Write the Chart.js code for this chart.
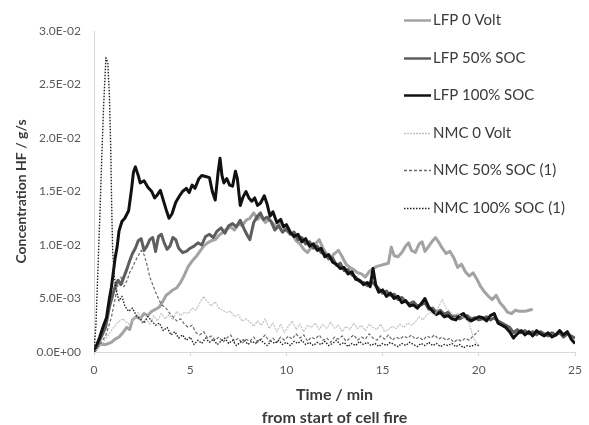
<!DOCTYPE html>
<html>
<head>
<meta charset="utf-8">
<script src="https://cdn.jsdelivr.net/npm/chart.js@4/dist/chart.umd.min.js"></script>
<style>
html,body{margin:0;padding:0;background:#fff;overflow:hidden}
#wrap{width:589px;height:425px;position:relative}
</style>
</head>
<body>
<div id="wrap"><canvas id="c" width="589" height="425"></canvas></div>
<script>
// ---- data (time in min, concentration HF in g/s) ----
const seriesNames = ["LFP 0 Volt","LFP 50% SOC","LFP 100% SOC","NMC 0 Volt","NMC 50% SOC (1)","NMC 100% SOC (1)"];
const xTickValues = [0,5,10,15,20,25];
const yTickValues = [0,0.005,0.01,0.015,0.02,0.025,0.03];
const xTitleLines = ["Time / min","from start of cell fire"];
const yTitle = "Concentration HF / g/s";

const tLfp0 = [0,0.3,0.6,0.9,1.1,1.3,1.5,1.7,1.85,2.0,2.2,2.4,2.6,2.8,3.0,3.2,3.4,3.6,3.75,3.9,4.1,4.3,4.5,4.7,4.9,5.1,5.3,5.5,5.7,5.9,6.1,6.3,6.5,6.7,6.9,7.1,7.3,7.5,7.7,7.9,8.1,8.3,8.5,8.7,8.9,9.1,9.3,9.5,9.7,9.9,10.1,10.3,10.5,10.7,10.9,11.1,11.3,11.5,11.7,11.9,12.1,12.3,12.5,12.7,12.9,13.1,13.3,13.5,13.7,13.9,14.1,14.3,14.5,14.7,14.9,15.1,15.3,15.45,15.6,15.8,16.0,16.2,16.35,16.5,16.7,16.9,17.05,17.2,17.4,17.6,17.75,17.9,18.1,18.3,18.5,18.7,18.9,19.1,19.3,19.5,19.7,19.9,20.1,20.3,20.5,20.7,20.9,21.1,21.3,21.5,21.7,21.9,22.1,22.4,22.6,22.8];
const vLfp0 = [0,0.0007,0.0007,0.0009,0.0012,0.0014,0.0018,0.0023,0.0021,0.003,0.0033,0.0031,0.0036,0.0034,0.0038,0.004,0.0042,0.0048,0.0053,0.0055,0.0058,0.006,0.0065,0.0072,0.008,0.0085,0.0089,0.0094,0.0099,0.0102,0.0104,0.0105,0.0109,0.0112,0.0115,0.0117,0.0114,0.012,0.0118,0.0123,0.0125,0.013,0.0124,0.0127,0.0121,0.0124,0.012,0.0117,0.0121,0.0115,0.0112,0.011,0.0104,0.0101,0.0096,0.0093,0.0098,0.0101,0.0105,0.0097,0.0091,0.0088,0.0092,0.0095,0.0089,0.0082,0.0079,0.0077,0.0074,0.0073,0.007,0.0075,0.0078,0.008,0.0081,0.0082,0.0083,0.0098,0.009,0.0089,0.0093,0.0099,0.0102,0.0095,0.0093,0.0101,0.0103,0.0094,0.0099,0.0104,0.0107,0.0103,0.0097,0.0092,0.0094,0.0088,0.0079,0.0082,0.0075,0.0071,0.0074,0.0068,0.0061,0.0056,0.0052,0.0049,0.0053,0.0046,0.0042,0.0037,0.0036,0.0039,0.0038,0.0038,0.0039,0.004];

const tLfp50 = [0,0.3,0.6,0.8,1.0,1.15,1.25,1.4,1.55,1.7,1.85,2.0,2.15,2.3,2.45,2.6,2.75,2.9,3.05,3.2,3.35,3.5,3.65,3.8,3.95,4.1,4.25,4.4,4.6,4.8,5.0,5.2,5.4,5.6,5.8,6.0,6.2,6.4,6.6,6.8,7.0,7.2,7.4,7.6,7.8,8.0,8.1,8.3,8.5,8.65,8.8,9.0,9.2,9.4,9.6,9.8,10.0,10.2,10.4,10.6,10.8,11.0,11.2,11.4,11.6,11.8,12.0,12.2,12.4,12.6,12.8,13.0,13.2,13.4,13.6,13.8,14.0,14.2,14.4,14.6,14.8,15.0,15.2,15.4,15.6,15.8,16.0,16.2,16.4,16.6,16.8,17.0,17.2,17.4,17.6,17.8,18.0,18.2,18.4,18.6,18.8,19.0,19.2,19.4,19.6,19.8,20.0,20.2,20.4,20.6,20.8,21.0,21.2,21.4,21.6,21.8,22.0,22.2,22.4,22.6,22.8,23.0,23.2,23.4,23.6,23.8,24.0,24.2,24.4,24.6,24.8,25.0];
const vLfp50 = [0,0.0011,0.0023,0.0042,0.0055,0.0064,0.0067,0.0063,0.007,0.0077,0.0085,0.0092,0.0097,0.0104,0.0106,0.0095,0.0099,0.0105,0.0107,0.0094,0.0108,0.011,0.0102,0.0096,0.0099,0.0107,0.0105,0.0097,0.0093,0.0094,0.0097,0.0099,0.0102,0.01,0.0108,0.011,0.0107,0.0113,0.0116,0.0111,0.0118,0.012,0.0117,0.0123,0.0115,0.0108,0.0105,0.0121,0.0127,0.013,0.0124,0.0126,0.0122,0.0114,0.0118,0.0112,0.0115,0.011,0.0112,0.0105,0.0107,0.0101,0.0103,0.0097,0.0099,0.0093,0.0092,0.0087,0.0088,0.0081,0.0083,0.0076,0.0077,0.0072,0.007,0.0066,0.0065,0.0062,0.0066,0.0063,0.0059,0.0055,0.0057,0.0053,0.0054,0.0049,0.0051,0.0047,0.0045,0.0047,0.0043,0.0044,0.0046,0.004,0.0041,0.0037,0.0039,0.0035,0.0037,0.0033,0.0034,0.0031,0.0033,0.0034,0.0031,0.0032,0.003,0.0031,0.0033,0.003,0.0032,0.0029,0.0027,0.0025,0.0023,0.0018,0.0021,0.0018,0.002,0.0017,0.0019,0.0016,0.0019,0.0017,0.0015,0.0018,0.0016,0.0018,0.0014,0.0017,0.0015,0.0013];

const tLfp100 = [0,0.3,0.5,0.65,0.8,0.9,1.0,1.1,1.2,1.3,1.45,1.6,1.8,1.95,2.05,2.15,2.3,2.4,2.6,2.8,3.0,3.15,3.3,3.45,3.6,3.75,3.9,4.05,4.25,4.45,4.6,4.8,4.95,5.1,5.25,5.45,5.6,5.8,6.0,6.15,6.3,6.45,6.55,6.65,6.75,6.9,7.05,7.2,7.35,7.45,7.6,7.75,7.9,8.05,8.2,8.35,8.5,8.65,8.85,9.0,9.15,9.3,9.5,9.7,9.85,10.0,10.2,10.4,10.6,10.8,11.0,11.2,11.4,11.6,11.8,12.0,12.2,12.4,12.6,12.8,13.0,13.2,13.4,13.6,13.8,14.0,14.2,14.35,14.5,14.65,14.8,15.0,15.2,15.4,15.6,15.8,16.0,16.2,16.4,16.6,16.8,17.0,17.2,17.4,17.6,17.8,18.0,18.2,18.4,18.6,18.8,19.0,19.2,19.4,19.6,19.8,20.0,20.2,20.4,20.6,20.8,21.0,21.2,21.4,21.6,21.8,22.0,22.2,22.4,22.6,22.8,23.0,23.2,23.4,23.6,23.8,24.0,24.2,24.4,24.6,24.8,25.0];
const vLfp100 = [0,0.0014,0.0025,0.0032,0.005,0.006,0.0074,0.0088,0.0098,0.0113,0.0122,0.0125,0.0132,0.0152,0.0168,0.0173,0.0165,0.0158,0.016,0.0154,0.015,0.0144,0.0147,0.0151,0.0142,0.0133,0.0125,0.0129,0.014,0.0146,0.015,0.0153,0.0149,0.0156,0.0153,0.0162,0.0165,0.0164,0.0163,0.015,0.0142,0.0168,0.0181,0.0165,0.0158,0.0162,0.0156,0.0155,0.0169,0.0162,0.0137,0.0145,0.015,0.0144,0.0141,0.0144,0.0137,0.0139,0.0146,0.0138,0.0127,0.0131,0.0121,0.0124,0.0117,0.0119,0.0112,0.0108,0.011,0.0103,0.0106,0.0099,0.0101,0.0095,0.0097,0.0089,0.0091,0.0084,0.0082,0.0078,0.0079,0.0073,0.0075,0.0068,0.0067,0.0063,0.0065,0.0061,0.0078,0.0062,0.0056,0.0058,0.0052,0.0055,0.005,0.0052,0.0046,0.0048,0.0043,0.0044,0.0041,0.0045,0.005,0.0042,0.0038,0.0035,0.0037,0.0033,0.0034,0.0031,0.003,0.0034,0.0036,0.0031,0.0029,0.0031,0.0033,0.0032,0.0029,0.0034,0.0036,0.0027,0.0025,0.0023,0.0019,0.0013,0.0017,0.002,0.0016,0.0019,0.0015,0.002,0.0017,0.0015,0.0018,0.0014,0.0016,0.002,0.0016,0.0019,0.0012,0.0008];

const tNmc0 = [0,0.3,0.6,0.9,1.2,1.5,1.8,2.0,2.3,2.5,2.7,2.9,3.1,3.3,3.5,3.7,3.9,4.1,4.3,4.5,4.7,4.9,5.1,5.3,5.5,5.7,5.9,6.1,6.3,6.5,6.7,6.9,7.1,7.3,7.5,7.7,7.9,8.1,8.3,8.5,8.7,8.9,9.1,9.3,9.5,9.7,9.9,10.1,10.3,10.5,10.7,10.9,11.1,11.3,11.5,11.7,11.9,12.1,12.3,12.5,12.7,12.9,13.1,13.3,13.5,13.7,13.9,14.1,14.3,14.5,14.7,14.9,15.1,15.3,15.5,15.7,15.9,16.1,16.3,16.5,16.7,16.9,17.1,17.3,17.5,17.7,17.9,18.1,18.3,18.5,18.7,18.9,19.1,19.3,19.5,19.7,19.9,20.0];
const vNmc0 = [0,0.0005,0.0012,0.002,0.0027,0.0031,0.0026,0.0029,0.0037,0.0027,0.0031,0.0026,0.0034,0.0029,0.0036,0.0031,0.0035,0.003,0.0038,0.0034,0.0037,0.0036,0.0041,0.0039,0.0046,0.0052,0.0047,0.0043,0.0047,0.0041,0.0039,0.0037,0.0038,0.0033,0.0035,0.0029,0.0031,0.0028,0.0024,0.0029,0.0025,0.0031,0.0022,0.0027,0.0019,0.0026,0.0018,0.0024,0.0029,0.0021,0.0026,0.0019,0.0025,0.0023,0.0027,0.0021,0.0026,0.0022,0.0028,0.0022,0.0025,0.0019,0.0024,0.0021,0.0027,0.0022,0.0025,0.002,0.0026,0.0023,0.0021,0.0026,0.0019,0.0021,0.0024,0.0022,0.0026,0.0023,0.0027,0.0025,0.0028,0.0033,0.003,0.0035,0.0037,0.0034,0.0042,0.0049,0.0041,0.0038,0.0034,0.0036,0.0033,0.0031,0.0027,0.0014,0.0008,0.0007];

const tNmc50 = [0,0.3,0.6,0.9,1.1,1.25,1.4,1.55,1.7,1.85,2.0,2.15,2.3,2.45,2.6,2.75,2.9,3.05,3.2,3.35,3.5,3.7,3.9,4.1,4.3,4.5,4.7,4.9,5.1,5.3,5.5,5.7,5.9,6.1,6.3,6.5,6.7,6.9,7.1,7.3,7.5,7.7,7.9,8.1,8.3,8.5,8.7,8.9,9.1,9.3,9.5,9.7,9.9,10.1,10.3,10.5,10.7,10.9,11.1,11.3,11.5,11.7,11.9,12.1,12.3,12.5,12.7,12.9,13.1,13.3,13.5,13.7,13.9,14.1,14.3,14.5,14.7,14.9,15.1,15.3,15.5,15.7,15.9,16.1,16.3,16.5,16.7,16.9,17.1,17.3,17.5,17.7,17.9,18.1,18.3,18.5,18.7,18.9,19.1,19.3,19.5,19.7,19.9,20.0];
const vNmc50 = [0,0.0007,0.0015,0.0032,0.005,0.0064,0.007,0.0061,0.0066,0.0074,0.0079,0.0085,0.009,0.0095,0.0091,0.0082,0.007,0.0063,0.0056,0.005,0.0044,0.0042,0.0037,0.0033,0.0029,0.0031,0.0026,0.0023,0.0025,0.0018,0.0016,0.0019,0.0013,0.0015,0.0011,0.0014,0.0009,0.0013,0.0016,0.001,0.0013,0.0008,0.0012,0.001,0.0014,0.0009,0.0012,0.0016,0.001,0.0013,0.0009,0.0014,0.0011,0.0015,0.0012,0.0017,0.0013,0.0016,0.001,0.0014,0.0012,0.0016,0.0011,0.0013,0.0009,0.0014,0.0012,0.0015,0.001,0.0013,0.0016,0.0011,0.0014,0.0012,0.0017,0.0013,0.0011,0.0015,0.0012,0.0016,0.0011,0.0014,0.0012,0.0015,0.0013,0.0016,0.0012,0.0014,0.0011,0.0015,0.0013,0.0016,0.0012,0.0014,0.0011,0.0013,0.0009,0.0012,0.001,0.0013,0.0011,0.0015,0.0018,0.002];

const tNmc100 = [0,0.1,0.2,0.3,0.4,0.5,0.62,0.72,0.8,0.87,0.92,0.97,1.05,1.15,1.3,1.45,1.6,1.8,2.0,2.2,2.4,2.6,2.8,3.0,3.2,3.4,3.6,3.8,4.0,4.2,4.4,4.6,4.8,5.0,5.2,5.4,5.6,5.8,6.0,6.2,6.4,6.6,6.8,7.0,7.2,7.4,7.6,7.8,8.0,8.2,8.4,8.6,8.8,9.0,9.2,9.4,9.6,9.8,10.0,10.2,10.4,10.6,10.8,11.0,11.2,11.4,11.6,11.8,12.0,12.2,12.4,12.6,12.8,13.0,13.2,13.4,13.6,13.8,14.0,14.2,14.4,14.6,14.8,15.0,15.2,15.4,15.6,15.8,16.0,16.2,16.4,16.6,16.8,17.0,17.2,17.4,17.6,17.8,18.0,18.2,18.4,18.6,18.8,19.0,19.2,19.4,19.6,19.8,20.0];
const vNmc100 = [0,0.0025,0.0075,0.0125,0.018,0.023,0.0275,0.027,0.024,0.019,0.0135,0.0095,0.0072,0.0058,0.0048,0.0052,0.0043,0.0038,0.0041,0.0034,0.0031,0.0027,0.0033,0.0029,0.0025,0.0027,0.002,0.0023,0.0016,0.0019,0.0013,0.0016,0.0011,0.0014,0.0007,0.0011,0.0008,0.0013,0.0009,0.0012,0.0007,0.001,0.0013,0.0008,0.0011,0.0006,0.0009,0.0012,0.0007,0.001,0.0008,0.0012,0.0009,0.0006,0.001,0.0008,0.0011,0.0007,0.0009,0.0006,0.001,0.0008,0.0011,0.0007,0.0009,0.0006,0.0009,0.0007,0.001,0.0006,0.0008,0.0011,0.0007,0.0009,0.0005,0.0008,0.0006,0.001,0.0007,0.0009,0.0006,0.0008,0.0005,0.0008,0.0006,0.0009,0.0007,0.0005,0.0008,0.0006,0.0009,0.0007,0.0005,0.0008,0.0006,0.0009,0.0006,0.0008,0.0005,0.0007,0.0006,0.0008,0.0005,0.0007,0.0004,0.0006,0.0005,0.0007,0.0006];

const seriesTimes = [tLfp0,tLfp50,tLfp100,tNmc0,tNmc50,tNmc100];
const seriesValues = [vLfp0,vLfp50,vLfp100,vNmc0,vNmc50,vNmc100];

// ---- styles ----
const FONT = "Lato, 'Open Sans', sans-serif";
const styles = [
  {color:'#a3a3a3', width:3,   dash:[]},
  {color:'#5e5e5e', width:3,   dash:[]},
  {color:'#111111', width:3,   dash:[]},
  {color:'#c2c2c2', width:1.2, dash:[2,1]},
  {color:'#6a6a6a', width:1.2, dash:[3,2]},
  {color:'#222222', width:1.4, dash:[1.5,1.5]}
];

const datasets = seriesNames.map((name,i)=>({
  label:name,
  data: seriesTimes[i].map((t,j)=>({x:t,y:seriesValues[i][j]})),
  borderColor: styles[i].color,
  borderWidth: styles[i].width,
  borderDash: styles[i].dash,
  borderJoinStyle:'round',
  pointRadius:0,
  tension:0,
  fill:false,
  order: seriesNames.length - i
}));

function fmtExp(v){
  const s = Number(v).toExponential(1).split('e');
  const sign = s[1][0];
  const digits = s[1].slice(1).padStart(2,'0');
  return s[0] + 'E' + sign + digits;
}

// legend overlaid in the upper right of the plot, as in the reference
const legendPlugin = {
  id:'overlayLegend',
  afterDraw(chart){
    const ctx = chart.ctx;
    const x0 = 404, lineLen = 27, textX = 433, y0 = 20, gap = 37.6;
    ctx.save();
    ctx.font = "15px " + FONT;
    ctx.textBaseline = 'middle';
    ctx.textAlign = 'left';
    chart.data.datasets.forEach((ds,i)=>{
      const y = Math.round(y0 + i*gap) + 0.5;
      ctx.beginPath();
      ctx.strokeStyle = ds.borderColor;
      ctx.lineWidth = i < 3 ? 2.5 : 1.3;
      ctx.setLineDash(ds.borderDash || []);
      ctx.moveTo(x0, y);
      ctx.lineTo(x0 + lineLen, y);
      ctx.stroke();
      ctx.setLineDash([]);
      ctx.fillStyle = '#3a3a3a';
      ctx.fillText(ds.label, textX, y);
    });
    ctx.restore();
  }
};

// two-line x axis title, centred under the plot area
const xTitlePlugin = {
  id:'xTitle',
  afterDraw(chart){
    const ctx = chart.ctx;
    const a = chart.chartArea;
    const cx = (a.left + a.right) / 2;
    ctx.save();
    ctx.font = "bold 16px " + FONT;
    ctx.fillStyle = '#3a3a3a';
    ctx.textAlign = 'center';
    ctx.textBaseline = 'middle';
    ctx.fillText(xTitleLines[0], cx, a.bottom + 43);
    ctx.fillText(xTitleLines[1], cx, a.bottom + 66);
    ctx.restore();
  }
};

new Chart(document.getElementById('c'), {
  type:'line',
  data:{datasets},
  options:{
    responsive:false,
    animation:false,
    devicePixelRatio:1,
    layout:{padding:{left:0,right:7,top:31,bottom:0}},
    plugins:{legend:{display:false},tooltip:{enabled:false}},
    scales:{
      x:{
        type:'linear', min:0, max:25,
        afterBuildTicks(scale){ scale.ticks = xTickValues.map(v=>({value:v})); },
        afterFit(scale){ scale.height = 73; },
        grid:{display:true, drawOnChartArea:false, drawTicks:true, tickLength:4, color:'#d9d9d9'},
        border:{display:true, color:'#d9d9d9', width:1},
        ticks:{color:'#595959', font:{family:FONT, size:12}, padding:7, maxRotation:0, autoSkip:false,
          callback:(v)=>String(v)},
        title:{display:false}
      },
      y:{
        type:'linear', min:0, max:0.03,
        afterBuildTicks(scale){ scale.ticks = yTickValues.map(v=>({value:v})); },
        afterFit(scale){ scale.width = 94; },
        grid:{display:true, drawOnChartArea:false, drawTicks:false, color:'#d9d9d9'},
        border:{display:true, color:'#d9d9d9', width:1},
        ticks:{color:'#595959', font:{family:FONT, size:12}, padding:13, callback:(v)=>fmtExp(v)},
        title:{display:true, text:yTitle, color:'#3a3a3a',
          font:{family:FONT, size:14, weight:'bold'}, padding:{top:13,bottom:0}}
      }
    }
  },
  plugins:[legendPlugin, xTitlePlugin]
});
</script>
</body>
</html>
